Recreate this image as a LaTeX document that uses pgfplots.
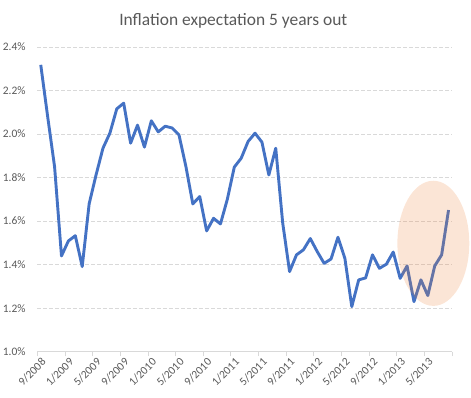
\documentclass[border=0pt]{standalone}
\usepackage{fontspec}
\setmainfont{Carlito}
\usepackage{pgfplots}
\pgfplotsset{compat=1.18}
\definecolor{linecol}{RGB}{68,114,196}
\definecolor{gridcol}{RGB}{217,217,217}
\definecolor{textcol}{RGB}{89,89,89}
\definecolor{orangecol}{RGB}{237,125,49}
\begin{document}
\begin{tikzpicture}
\useasboundingbox (-37.3bp,-46.3bp) rectangle (433.7bp,351.7bp);
\begin{axis}[
  at={(0,0)}, anchor=south west,
  scale only axis, width=414.7bp, height=304.7bp,
  xmin=-0.5, xmax=59.5, ymin=1.0, ymax=2.4,
  clip=false,
  axis x line=bottom, axis y line=left,
  x axis line style={-, draw=gridcol, line width=0.75bp},
  y axis line style={draw=none},
  xtick={-0.5,3.5,7.5,11.5,15.5,19.5,23.5,27.5,31.5,35.5,39.5,43.5,47.5,51.5,55.5,59.5},
  xticklabels={9/2008,1/2009,5/2009,9/2009,1/2010,5/2010,9/2010,1/2011,5/2011,9/2011,1/2012,5/2012,9/2012,1/2013,5/2013,{}},
  xtick style={draw=gridcol, line width=0.75bp},
  tick align=outside,
  major tick length=4.5bp,
  ytick={1.0,1.2,1.4,1.6,1.8,2.0,2.2,2.4},
  ytick style={draw=none},
  yticklabel={\pgfmathprintnumber[fixed,fixed zerofill,precision=1]{\tick}\%},
  /pgf/number format/assume math mode=true,
  ymajorgrids,
  grid style={draw=gridcol, line width=0.75bp, dash pattern=on 3.5bp off 2.5bp},
  ticklabel style={font=\fontsize{11.5}{13}\selectfont, text=textcol},
  xticklabel style={rotate=45, anchor=north east, inner sep=1bp, xshift=3bp, yshift=-2bp},
  yticklabel style={anchor=east, inner sep=0pt, xshift=-7bp},
]
\addplot[color=linecol, line width=2.9bp, line join=round, mark=none] coordinates {
(0,2.318) (1,2.08) (2,1.85) (3,1.44) (4,1.509) (5,1.533) (6,1.391) (7,1.679)
(8,1.812) (9,1.935) (10,2.004) (11,2.116) (12,2.142) (13,1.958) (14,2.041)
(15,1.940) (16,2.061) (17,2.010) (18,2.036) (19,2.028) (20,1.996) (21,1.851)
(22,1.679) (23,1.713) (24,1.555) (25,1.613) (26,1.587) (27,1.701) (28,1.848)
(29,1.889) (30,1.966) (31,2.004) (32,1.963) (33,1.812) (34,1.935) (35,1.593)
(36,1.368) (37,1.445) (38,1.468) (39,1.520) (40,1.460) (41,1.406) (42,1.426)
(43,1.526) (44,1.429) (45,1.207) (46,1.330) (47,1.339) (48,1.445) (49,1.383)
(50,1.402) (51,1.458) (52,1.337) (53,1.394) (54,1.230) (55,1.330) (56,1.258)
(57,1.394) (58,1.445) (59,1.651)
};
\fill[orangecol, opacity=0.2] (axis cs:56.8,1.498) ellipse [x radius=5.2, y radius=0.2875];
\end{axis}
\node[anchor=base, font=\fontsize{17.5}{20}\selectfont, text=textcol] at (196bp,325.7bp) {Inflation expectation 5 years out};
\end{tikzpicture}
\end{document}
